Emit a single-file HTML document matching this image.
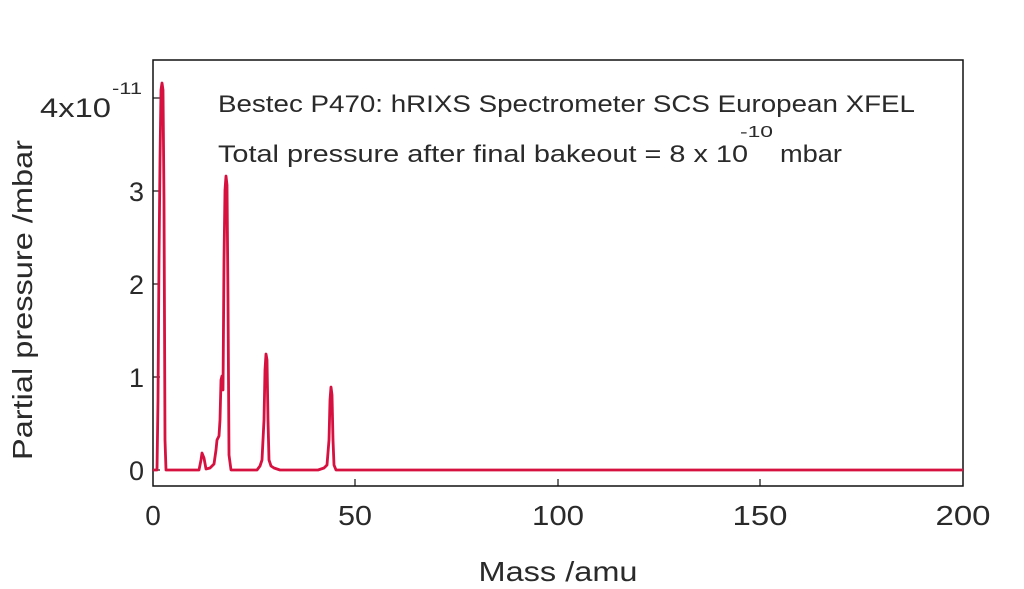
<!DOCTYPE html>
<html><head><style>body{margin:0;background:#fff}svg{display:block}text{font-family:"Liberation Sans",sans-serif;fill:#2a2a2a}</style></head>
<body>
<svg width="1024" height="589" viewBox="0 0 1024 589">
<rect x="153" y="60" width="810" height="426" fill="none" stroke="#111" stroke-width="1.5"/>
<g stroke="#111" stroke-width="1.2">
<line x1="153" y1="98" x2="160" y2="98"/><line x1="153" y1="191" x2="160" y2="191"/><line x1="153" y1="284" x2="160" y2="284"/><line x1="153" y1="377" x2="160" y2="377"/><line x1="153" y1="470" x2="160" y2="470"/>
<line x1="355" y1="486" x2="355" y2="479"/><line x1="558" y1="486" x2="558" y2="479"/><line x1="760" y1="486" x2="760" y2="479"/>
</g>
<g font-size="27" text-anchor="end">
<text x="111" y="117" textLength="71" lengthAdjust="spacingAndGlyphs">4x10</text><text x="144" y="201">3</text><text x="144" y="294">2</text><text x="144" y="387">1</text><text x="144" y="480">0</text>
</g>
<text x="112" y="94" font-size="17" textLength="30" lengthAdjust="spacingAndGlyphs">-11</text>
<g font-size="28" text-anchor="middle">
<text x="153" y="525">0</text><text x="355" y="525" textLength="34" lengthAdjust="spacingAndGlyphs">50</text><text x="558" y="525" textLength="52" lengthAdjust="spacingAndGlyphs">100</text><text x="760" y="525" textLength="55" lengthAdjust="spacingAndGlyphs">150</text><text x="963" y="525" textLength="55" lengthAdjust="spacingAndGlyphs">200</text>
<text x="558" y="581" textLength="159" lengthAdjust="spacingAndGlyphs">Mass /amu</text>
</g>
<text transform="translate(32,300) rotate(-90)" font-size="28" text-anchor="middle" textLength="320" lengthAdjust="spacingAndGlyphs">Partial pressure /mbar</text>
<text x="218" y="112" font-size="24" textLength="697" lengthAdjust="spacingAndGlyphs">Bestec P470: hRIXS Spectrometer SCS European XFEL</text>
<text x="218" y="162" font-size="24" textLength="530" lengthAdjust="spacingAndGlyphs">Total pressure after final bakeout = 8 x 10</text>
<text x="740" y="137" font-size="16" textLength="33" lengthAdjust="spacingAndGlyphs">-10</text>
<text x="780" y="162" font-size="24" textLength="62" lengthAdjust="spacingAndGlyphs">mbar</text>
<polyline fill="none" stroke="#d6103f" stroke-width="2.8" stroke-linejoin="round" points="153,470 157,470 158,400 159,260 160,160 161,90 162,83 163,90 164,200 165,440 166,470 199,470 201,460 202,453 204,458 206,469 210,468 214,464 216,450 217,440 219,436 220,420 221,380 222,376 223,390 224,260 225,190 226,176 227,185 228,300 229,455 231,470 257,470 260,466 262,460 264,420 265,370 266,354 267,360 268,420 269,460 271,466 274,468 280,470 318,470 324,468 327,465 329,440 330,400 331,387 332,395 333,440 334,465 336,470 963,470"/>
</svg>
</body></html>
